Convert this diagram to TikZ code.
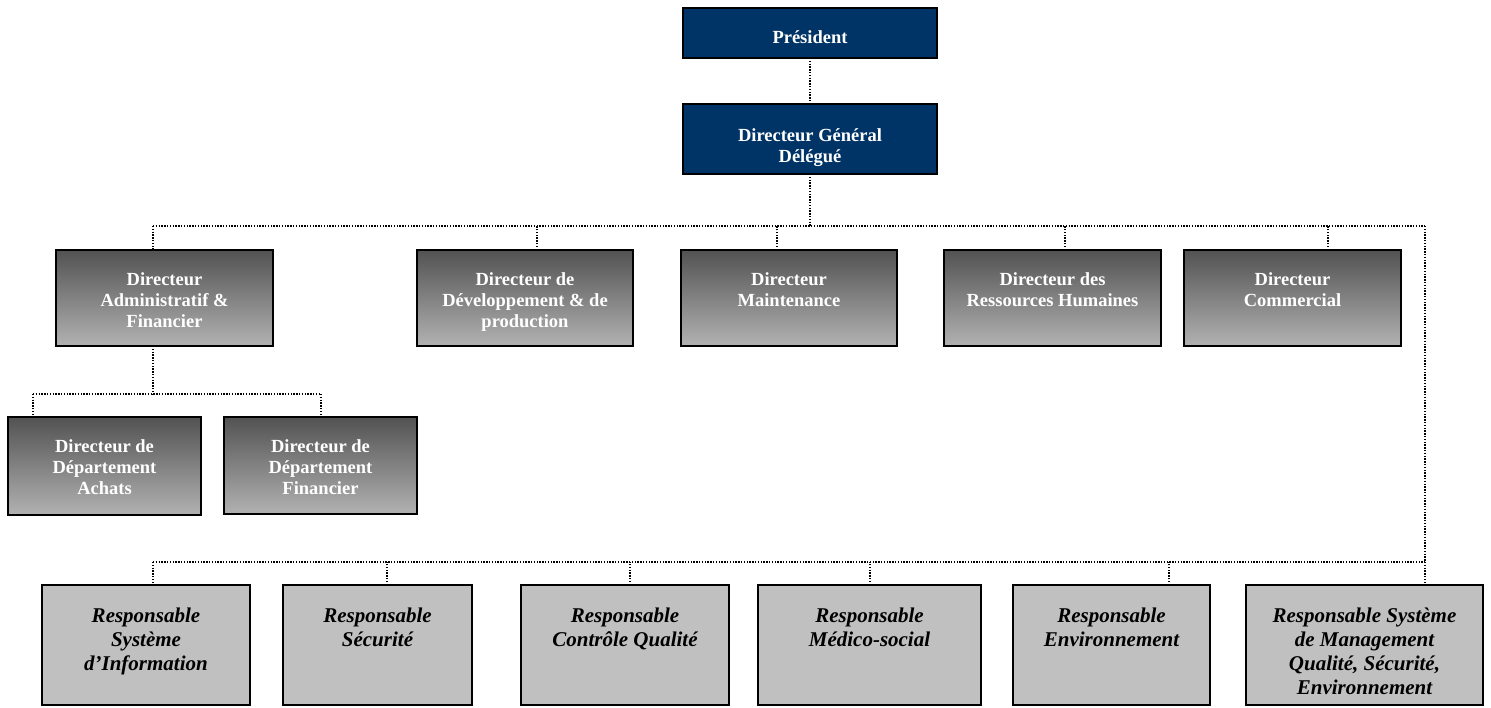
\documentclass[tikz,border=0pt]{standalone}
\usepackage{fontspec}
\setmainfont{Liberation Serif}
\usetikzlibrary{backgrounds}
\definecolor{navy}{RGB}{0,51,102}
\definecolor{lgray}{RGB}{192,192,192}
\definecolor{gtop}{RGB}{82,82,82}
\definecolor{gbot}{RGB}{178,178,178}
\tikzset{
  box/.style={draw=black, line width=2pt, inner sep=0pt, outer sep=0pt, anchor=north west},
  topbox/.style={box, fill=navy},
  gradbox/.style={box, top color=gtop, bottom color=gbot},
  respbox/.style={box, fill=lgray},
  wtext/.style={text=white, font=\fontsize{18.5}{21}\selectfont\bfseries, align=center, inner sep=0pt, anchor=north},
  ktext/.style={text=black, font=\fontsize{21}{24}\selectfont\bfseries\itshape, align=center, inner sep=0pt, anchor=north},
  conn/.style={line width=1.8pt, dash pattern=on 1.4pt off 1.4pt}
}
\begin{document}
\begin{tikzpicture}[x=1pt, y=-1pt]
\useasboundingbox (0,0) rectangle (1491,707);

% top
\node[topbox, minimum width=254pt, minimum height=50pt] (pres) at (683,8) {};
\node[wtext] (prest) at ([yshift=-22pt]pres.north) {Président};
\node[topbox, minimum width=254pt, minimum height=70pt] (dg) at (683,104) {};
\node[wtext] (dgt) at ([yshift=-24pt]dg.north) {Directeur Général\\Délégué};

% row 2
\node[gradbox, minimum width=217pt, minimum height=96pt] (adm) at (56,250) {};
\node[wtext] (admt) at ([yshift=-22pt]adm.north) {Directeur\\Administratif \&\\Financier};
\node[gradbox, minimum width=216pt, minimum height=96pt] (dev) at (417,250) {};
\node[wtext] (devt) at ([yshift=-22pt]dev.north) {Directeur de\\Développement \& de\\production};
\node[gradbox, minimum width=216pt, minimum height=96pt] (mnt) at (681,250) {};
\node[wtext] (mntt) at ([yshift=-22pt]mnt.north) {Directeur\\Maintenance};
\node[gradbox, minimum width=217pt, minimum height=96pt] (rh) at (944,250) {};
\node[wtext] (rht) at ([yshift=-22pt]rh.north) {Directeur des\\Ressources Humaines};
\node[gradbox, minimum width=217pt, minimum height=96pt] (com) at (1184,250) {};
\node[wtext] (comt) at ([yshift=-22pt]com.north) {Directeur\\Commercial};

% row 3
\node[gradbox, minimum width=193pt, minimum height=98pt] (ach) at (8,417) {};
\node[wtext] (acht) at ([yshift=-22pt]ach.north) {Directeur de\\Département\\Achats};
\node[gradbox, minimum width=193pt, minimum height=97pt] (fin) at (224,417) {};
\node[wtext] (fint) at ([yshift=-22pt]fin.north) {Directeur de\\Département\\Financier};

% bottom row
\node[respbox, minimum width=208pt, minimum height=120pt] (r1) at (42,585) {};
\node[ktext] (r1t) at ([yshift=-23pt]r1.north) {Responsable\\Système\\d’Information};
\node[respbox, minimum width=189pt, minimum height=120pt] (r2) at (283,585) {};
\node[ktext] (r2t) at ([yshift=-23pt]r2.north) {Responsable\\Sécurité};
\node[respbox, minimum width=208pt, minimum height=120pt] (r3) at (521,585) {};
\node[ktext] (r3t) at ([yshift=-23pt]r3.north) {Responsable\\Contrôle Qualité};
\node[respbox, minimum width=223pt, minimum height=120pt] (r4) at (758,585) {};
\node[ktext] (r4t) at ([yshift=-23pt]r4.north) {Responsable\\Médico-social};
\node[respbox, minimum width=197pt, minimum height=120pt] (r5) at (1013,585) {};
\node[ktext] (r5t) at ([yshift=-23pt]r5.north) {Responsable\\Environnement};
\node[respbox, minimum width=237pt, minimum height=120pt] (r6) at (1246,585) {};
\node[ktext] (r6t) at ([yshift=-23pt]r6.north) {Responsable Système\\de Management\\Qualité, Sécurité,\\Environnement};

% connectors
\coordinate (busT) at (153,226);
\coordinate (busTR) at (1425,226);
\coordinate (busS) at (33,394);
\coordinate (busSR) at (321,394);
\coordinate (busB) at (153,562);
\begin{scope}[on background layer]
\draw[conn] (pres.south) -- (dg.north);
\draw[conn] (dg.south) -- (dg.south |- busT);
\draw[conn] (busT) -- (busTR);
\draw[conn] (busT) -- (busT |- adm.north);
\draw[conn] ([xshift=12pt]dev.north) -- ([xshift=12pt]dev.north |- busT);
\draw[conn] ([xshift=-12pt]mnt.north) -- ([xshift=-12pt]mnt.north |- busT);
\draw[conn] ([xshift=12.5pt]rh.north) -- ([xshift=12.5pt]rh.north |- busT);
\draw[conn] ([xshift=35.5pt]com.north) -- ([xshift=35.5pt]com.north |- busT);
\draw[conn] (busTR) -- (busTR |- r6.north);
% admin sub-tree
\draw[conn] (busT |- adm.south) -- (busT |- busS);
\draw[conn] (busS) -- (busSR);
\draw[conn] (busS) -- (busS |- ach.north);
\draw[conn] (busSR) -- (busSR |- fin.north);
% bottom bus
\draw[conn] (busB) -- (busB -| busTR);
\draw[conn] (busB) -- (busB |- r1.north);
\draw[conn] ([xshift=9.5pt]r2.north) -- ([xshift=9.5pt]r2.north |- busB);
\draw[conn] ([xshift=5pt]r3.north) -- ([xshift=5pt]r3.north |- busB);
\draw[conn] ([xshift=0.5pt]r4.north) -- ([xshift=0.5pt]r4.north |- busB);
\draw[conn] ([xshift=57.5pt]r5.north) -- ([xshift=57.5pt]r5.north |- busB);
\end{scope}
\end{tikzpicture}
\end{document}
